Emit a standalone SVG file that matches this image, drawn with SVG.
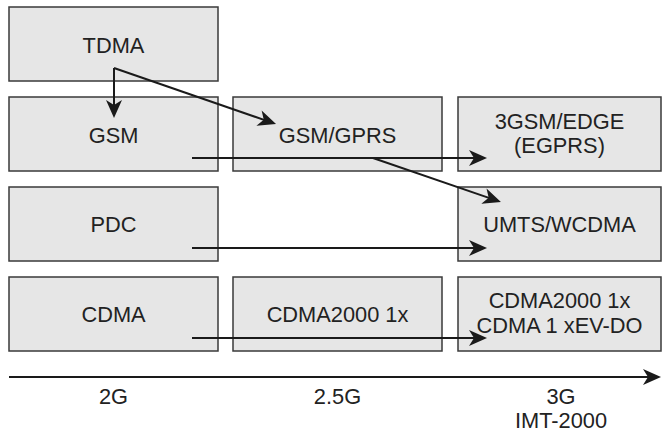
<svg xmlns="http://www.w3.org/2000/svg" width="662" height="432" viewBox="0 0 662 432">
  <style>
    .box { fill: #e6e6e6; stroke: #3a3a3a; stroke-width: 1.5; }
    .lbl { font-family: "Liberation Sans", Arial, sans-serif; font-size: 21.8px; fill: #222; text-anchor: middle; }
    .conn { fill: none; stroke: #1a1a1a; stroke-width: 2; marker-end: url(#head); }
  </style>
  <defs>
    <marker id="head" markerUnits="userSpaceOnUse" viewBox="-8 -10 22 20" markerWidth="22" markerHeight="20" refX="0" refY="0" orient="auto">
      <path d="M12,0 L-6,-8 L-1,0 L-6,8 Z" fill="#1a1a1a"/>
    </marker>
  </defs>

  <rect width="662" height="432" fill="#ffffff"/>

  <!-- 2G column -->
  <g id="tdma"><rect class="box" x="9" y="7" width="209" height="74"/><text class="lbl" x="113.5" y="53">TDMA</text></g>
  <g id="gsm"><rect class="box" x="9" y="97" width="209" height="74"/><text class="lbl" x="113.5" y="143">GSM</text></g>
  <g id="pdc"><rect class="box" x="9" y="187" width="209" height="74"/><text class="lbl" x="113.5" y="232">PDC</text></g>
  <g id="cdma"><rect class="box" x="9" y="277" width="209" height="74"/><text class="lbl" x="113.5" y="322">CDMA</text></g>

  <!-- 2.5G column -->
  <g id="gprs"><rect class="box" x="233" y="97" width="209" height="74"/><text class="lbl" x="337.5" y="143">GSM/GPRS</text></g>
  <g id="cdma2000"><rect class="box" x="233" y="277" width="209" height="74"/><text class="lbl" x="337.5" y="322">CDMA2000 1x</text></g>

  <!-- 3G column -->
  <g id="edge"><rect class="box" x="458" y="97" width="203" height="74"/><text class="lbl" x="559.5" y="129">3GSM/EDGE</text><text class="lbl" x="559.5" y="153">(EGPRS)</text></g>
  <g id="umts"><rect class="box" x="458" y="187" width="203" height="74"/><text class="lbl" x="559.5" y="232">UMTS/WCDMA</text></g>
  <g id="evdo"><rect class="box" x="458" y="277" width="203" height="74"/><text class="lbl" x="559.5" y="308">CDMA2000 1x</text><text class="lbl" x="559.5" y="333">CDMA 1 xEV-DO</text></g>

  <!-- evolution paths -->
  <g id="connectors">
    <path class="conn" d="M114,68 V106"/>
    <path class="conn" d="M114,68 L264.7,120.1"/>
    <path class="conn" d="M192,158 H475"/>
    <path class="conn" d="M373,158 L489.6,198.1"/>
    <path class="conn" d="M192,248 H475"/>
    <path class="conn" d="M192,338 H475"/>
    <path class="conn" d="M9,377 H649"/>
  </g>

  <!-- generation axis labels -->
  <g id="axis-labels">
    <text class="lbl" x="113.5" y="404">2G</text>
    <text class="lbl" x="337.5" y="404">2.5G</text>
    <text class="lbl" x="561" y="404">3G</text>
    <text class="lbl" x="561" y="428">IMT-2000</text>
  </g>
</svg>
